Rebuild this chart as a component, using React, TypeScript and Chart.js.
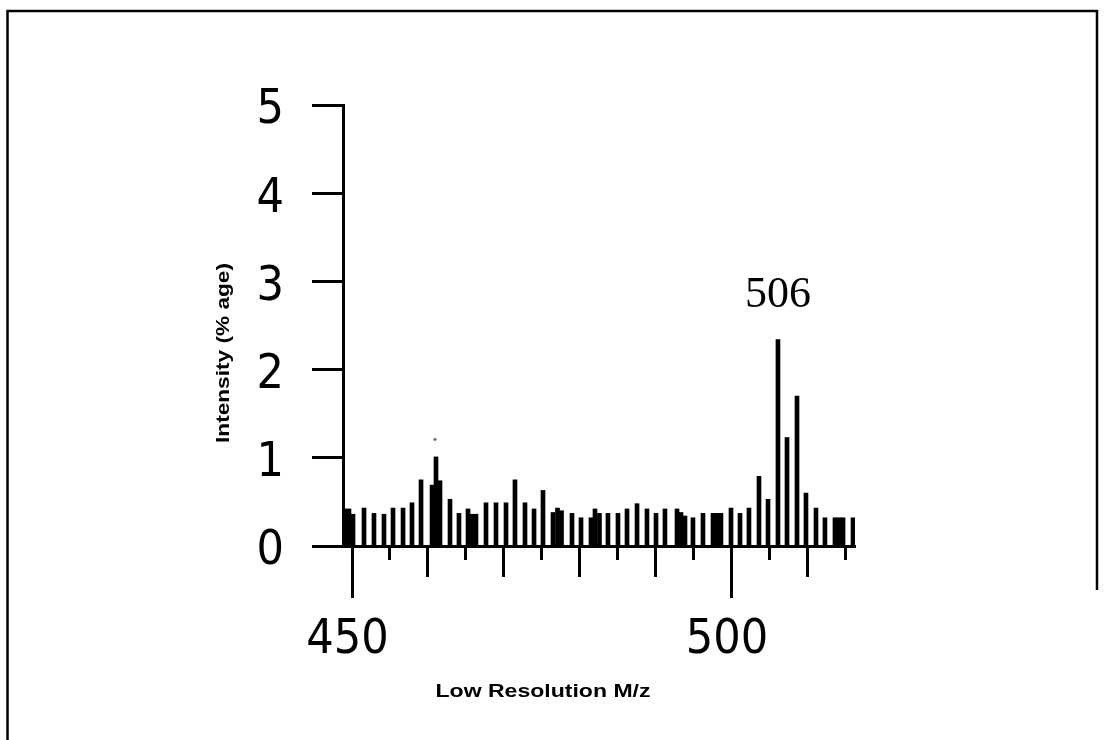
import { useEffect, useRef } from 'react';
import { Chart, registerables } from 'chart.js';

Chart.register(...registerables);

// m/z positions of the plotted bars
const mzValues = [
  449.14, 449.67, 450.2, 451.65, 452.96, 454.28, 455.47, 456.79, 457.97, 459.16,
  460.61, 461.13, 461.66, 462.98, 464.16, 465.35, 465.88, 466.4, 467.72, 469.04,
  470.36, 471.54, 472.86, 474.05, 475.23, 476.55, 477.14, 477.67, 479.05, 480.24,
  481.55, 482.08, 482.67, 483.79, 485.11, 486.3, 487.62, 488.93, 490.12, 491.3,
  492.89, 493.41, 493.94, 494.99, 496.31, 497.63, 498.16, 498.68, 500.0, 501.19,
  502.37, 503.69, 504.88, 506.19, 507.38, 508.7, 509.88, 511.2, 512.38, 513.7,
  514.23, 514.76, 516.08,
];

// Intensity (% age) for each bar
const intensities = [
  0.42, 0.42, 0.36, 0.43, 0.37, 0.36, 0.43, 0.43, 0.49, 0.75,
  0.69, 1.01, 0.74, 0.53, 0.37, 0.42, 0.36, 0.36, 0.49, 0.49,
  0.49, 0.75, 0.49, 0.42, 0.63, 0.38, 0.43, 0.4, 0.37, 0.32,
  0.32, 0.42, 0.37, 0.37, 0.37, 0.42, 0.48, 0.42, 0.37, 0.42,
  0.42, 0.38, 0.34, 0.32, 0.37, 0.37, 0.37, 0.37, 0.43, 0.37,
  0.43, 0.79, 0.53, 2.34, 1.23, 1.7, 0.6, 0.43, 0.32, 0.32,
  0.32, 0.32, 0.32,
];

// small stray dot above the 461 cluster
const strayDotMz = [461.0];
const strayDotY = [1.21];

const yTickValues = [0, 1, 2, 3, 4, 5];
const xLabelTicks = [450, 500];
const X_MIN = 448.88;
const X_MAX = 516.34;
const X_STEP = 5;
const yTitle = 'Intensity (% age)';
const xTitle = 'Low Resolution M/z';
const peakLabel = '506';

const tickFont = {
  family: '"Liberation Sans Narrow", "DejaVu Sans Condensed", "Liberation Sans", sans-serif',
  size: 48,
  weight: 'normal' as const,
};

const decorPlugin = {
  id: 'decor',
  afterDraw(chart: any) {
    const { ctx } = chart;
    const xs = chart.scales.x;
    const ys = chart.scales.y;
    ctx.save();
    // x-axis tick marks of three lengths (positions from the x scale)
    const base = ys.getPixelForValue(0);
    ctx.strokeStyle = '#000';
    ctx.lineWidth = 3;
    xs.ticks.forEach((t: any) => {
      const v = Math.round(t.value);
      const len = v % 50 === 0 ? 52 : v % 10 === 0 ? 31 : 14;
      const px = Math.round(xs.getPixelForValue(t.value)) + 0.5;
      ctx.beginPath();
      ctx.moveTo(px, base);
      ctx.lineTo(px, base + len);
      ctx.stroke();
    });

    // outer frame
    ctx.lineWidth = 2.5;
    ctx.beginPath();
    ctx.moveTo(7.5, 740);
    ctx.lineTo(7.5, 11);
    ctx.lineTo(1097, 11);
    ctx.lineTo(1097, 590);
    ctx.stroke();

    ctx.fillStyle = '#000';
    ctx.textAlign = 'center';
    ctx.textBaseline = 'middle';
    // y title
    ctx.font = 'bold 19px "Liberation Sans", Arial, sans-serif';
    ctx.save();
    const wy = ctx.measureText(yTitle).width;
    ctx.translate(224, 353);
    ctx.rotate(-Math.PI / 2);
    ctx.scale(180 / wy, 1);
    ctx.fillText(yTitle, 0, 0);
    ctx.restore();
    // x title
    ctx.save();
    const wx = ctx.measureText(xTitle).width;
    ctx.translate(543, 692);
    ctx.scale(215 / wx, 1);
    ctx.fillText(xTitle, 0, 0);
    ctx.restore();

    // peak label
    let idx = 0;
    intensities.forEach((v, i) => { if (v > intensities[idx]) idx = i; });
    ctx.font = '44px "Liberation Serif", "Times New Roman", serif';
    ctx.textBaseline = 'alphabetic';
    ctx.fillText(peakLabel, xs.getPixelForValue(mzValues[idx]), ys.getPixelForValue(intensities[idx]) - 33);
    ctx.restore();
  },
};

export default function App() {
  const canvasRef = useRef<HTMLCanvasElement | null>(null);

  useEffect(() => {
    const canvas = canvasRef.current;
    if (!canvas) return;
    const chart = new Chart(canvas, {
      type: 'bar',
      data: {
        datasets: [
          {
            type: 'bar',
            data: mzValues.map((m, i) => ({ x: m, y: intensities[i] })),
            backgroundColor: '#000',
            borderWidth: 0,
            barThickness: 4,
            grouped: false,
          } as any,
          {
            type: 'scatter',
            data: strayDotMz.map((m, i) => ({ x: m, y: strayDotY[i] })),
            pointRadius: 1.6,
            pointBackgroundColor: '#777',
            pointBorderWidth: 0,
            showLine: false,
          } as any,
        ],
      },
      options: {
        responsive: false,
        animation: false,
        events: [],
        layout: { padding: { left: 0, top: 105, right: 252, bottom: 0 } },
        plugins: { legend: { display: false }, tooltip: { enabled: false }, title: { display: false } },
        scales: {
          x: {
            type: 'linear',
            position: 'bottom',
            offset: false,
            min: X_MIN,
            max: X_MAX,
            afterFit: (s: any) => { s.height = 194; },
            ticks: {
              stepSize: X_STEP,
              includeBounds: false,
              autoSkip: false,
              maxTicksLimit: 100,
              maxRotation: 0,
              minRotation: 0,
              padding: 66,
              labelOffset: -4,
              color: '#000',
              font: tickFont,
              callback: (v: any) => (xLabelTicks.includes(Math.round(Number(v))) ? String(Math.round(Number(v))) : ''),
            },
            grid: { display: false, offset: false, drawOnChartArea: false, drawTicks: false },
            border: { display: true, color: '#000', width: 3 },
          },
          y: {
            type: 'linear',
            position: 'left',
            min: 0,
            max: 5,
            afterFit: (s: any) => { s.width = 343; },
            afterBuildTicks: (s: any) => { s.ticks = yTickValues.map((v) => ({ value: v })); },
            ticks: { color: '#000', font: tickFont, padding: 28, labelOffset: 6, stepSize: 1 },
            grid: { drawOnChartArea: false, drawTicks: true, tickLength: 31, tickColor: '#000', tickWidth: 3 },
            border: { display: true, color: '#000', width: 3 },
          },
        } as any,
      },
      plugins: [decorPlugin],
    });
    return () => chart.destroy();
  }, []);

  return (
    <div style={{ position: 'absolute', left: 0, top: 0, width: 1107, height: 740, background: '#fff' }}>
      <canvas ref={canvasRef} width={1107} height={740} style={{ width: 1107, height: 740, display: 'block' }} />
    </div>
  );
}
